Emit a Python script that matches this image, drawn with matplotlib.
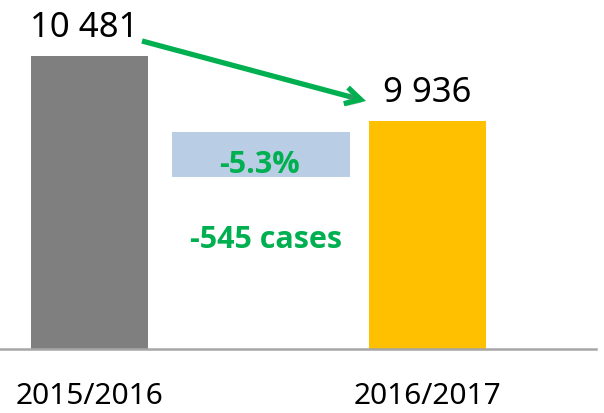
import matplotlib
matplotlib.use("Agg")
import matplotlib.pyplot as plt
from matplotlib.patches import Rectangle, FancyArrowPatch
import matplotlib.patheffects as pe

plt.rcParams['font.family'] = ['Noto Sans', 'DejaVu Sans']

categories = ["2015/2016", "2016/2017"]
values = [10481, 9936]
bar_colors = ["#7f7f7f", "#ffc000"]
pct_change_label = "-5.3%"
abs_change_label = "-545 cases"

W, H = 604, 413
fig = plt.figure(figsize=(W / 100, H / 100), dpi=100)

def fx(px):
    return px / W

def fy(py):
    return 1 - py / H

ax = fig.add_axes([0, fy(349), fx(596), 349 / H])
x = list(range(len(categories)))
bars = ax.bar(x, values, width=0.346, color=bar_colors, zorder=2)
ax.set_xlim(-0.265, 1.4985)
ax.set_ylim(8024, 10950)

for s in ["top", "right", "left"]:
    ax.spines[s].set_visible(False)
ax.spines["bottom"].set_color("#a6a6a6")
ax.spines["bottom"].set_linewidth(1.8)
ax.set_yticks([])
ax.set_xticks(x)
ax.set_xticklabels(categories, fontsize=21.5, color="#000000")
ax.tick_params(axis="x", length=0, pad=24)

offsets = [-4, 0]
for xi, v, dx in zip(x, values, offsets):
    ax.annotate(f"{v:,}".replace(",", " "), (xi, v), xytext=(dx, 13.7),
                textcoords="offset points", ha="center", va="baseline",
                fontsize=25, color="#000000")

bold_family = ['Open Sans', 'Lato', 'DejaVu Sans']

# change box
fig.add_artist(Rectangle((fx(172), fy(177)), fx(350) - fx(172), fy(132) - fy(177),
                         transform=fig.transFigure, facecolor="#b9cde5",
                         edgecolor="none", zorder=1))
fig.text(fx(259), fy(173), pct_change_label, ha="center", va="baseline",
         fontsize=22, fontweight="bold", color="#00b050", family=bold_family)
fig.text(fx(266), fy(248), abs_change_label, ha="center", va="baseline",
         fontsize=22, fontweight="bold", color="#00b050", family=bold_family)

arrow = FancyArrowPatch((fx(142), fy(41)), (fx(366), fy(101)),
                        transform=fig.transFigure,
                        arrowstyle="->,head_length=11,head_width=6",
                        color="#00b050", lw=3.8, joinstyle="miter",
                        capstyle="butt", shrinkA=0, shrinkB=0,
                        path_effects=[pe.SimplePatchShadow(offset=(1.5, -2), shadow_rgbFace="#777777", alpha=0.35), pe.Normal()])
fig.add_artist(arrow)

fig.savefig("out.png", dpi=100)
